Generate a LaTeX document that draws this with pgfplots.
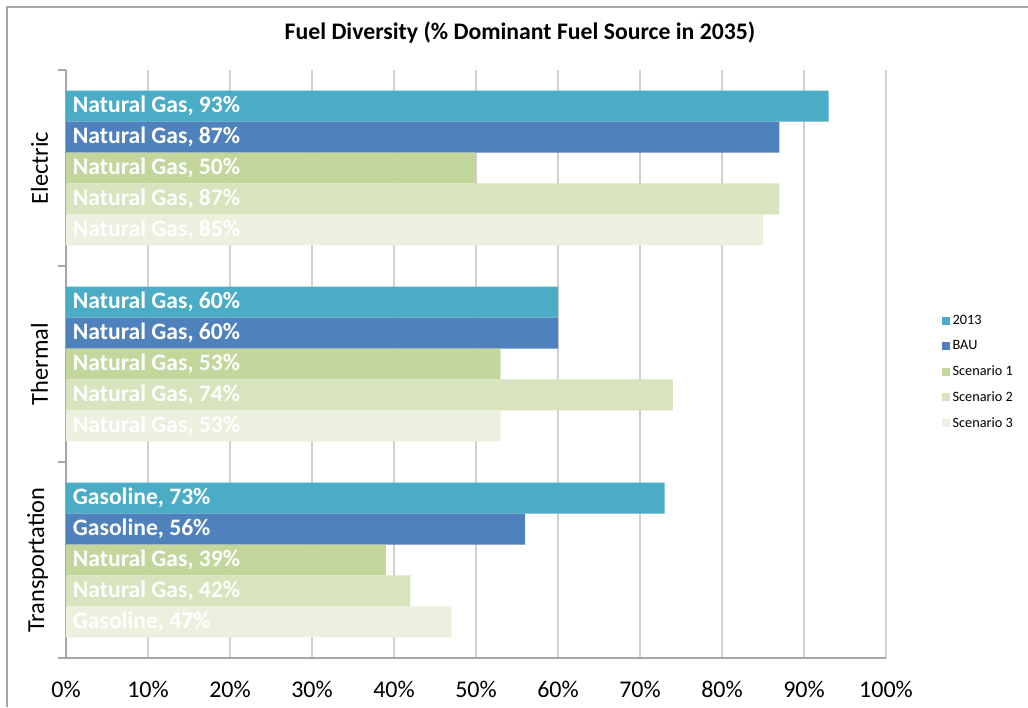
\documentclass[border=0pt]{standalone}
\usepackage{fontspec}
\setmainfont{Carlito}
\usepackage{pgfplots}
\pgfplotsset{compat=1.18}
\usepackage{pgfplotstable}

\definecolor{c2013}{HTML}{4BACC6}
\definecolor{cBAU}{HTML}{4F81BD}
\definecolor{cS1}{HTML}{C3D69B}
\definecolor{cS2}{HTML}{D7E4BD}
\definecolor{cS3}{HTML}{EBF1DE}
\definecolor{gridgray}{HTML}{D0D0D0}
\definecolor{axisgray}{HTML}{A6A6A6}

% share of the dominant fuel source, per sector (y) and case
\pgfplotstableread[col sep=comma]{
y,a,fa,b,fb,c,fc,d,fd,e,fe
0,73,Gasoline,56,Gasoline,39,Natural Gas,42,Natural Gas,47,Gasoline
1,60,Natural Gas,60,Natural Gas,53,Natural Gas,74,Natural Gas,53,Natural Gas
2,93,Natural Gas,87,Natural Gas,50,Natural Gas,87,Natural Gas,85,Natural Gas
}\fueldata

\begin{document}
\begin{tikzpicture}[x=1pt,y=1pt]
\fill[white] (0,0) rectangle (771,530.25);
\draw[axisgray,line width=0.8pt] (5.25,0) -- (5.25,525) -- (771,525);
\node[font=\fontsize{17.8}{21}\selectfont\bfseries] at (390,505.5) {Fuel Diversity (\% Dominant Fuel Source in 2035)};
\begin{axis}[
  at={(49.5pt,36.75pt)}, anchor=south west,
  scale only axis, width=615pt, height=441pt,
  xbar, bar width=0.158,
  xmin=0, xmax=100, ymin=-0.5, ymax=2.5,
  axis lines*=left,
  axis line style={-, draw=axisgray, line width=0.8pt},
  xtick={0,10,...,100},
  xticklabel={\pgfmathprintnumber{\tick}\%},
  xtick style={draw=none},
  xmajorgrids,
  major grid style={draw=gridgray, line width=0.8pt},
  xticklabel style={font=\fontsize{18}{21}\selectfont},
  yticklabel style={font=\fontsize{18.3}{21}\selectfont},
  /pgf/number format/assume math mode=true,
  xticklabel shift=8pt,
  ytick={-0.5,0.5,1.5,2.5},
  yticklabels={},
  ytick style={draw=axisgray, line width=0.8pt},
  tick align=outside,
  major tick length=6pt,
  extra y ticks={0,1,2},
  extra y tick labels={Transportation,Thermal,Electric},
  extra y tick style={major tick length=0pt, yticklabel style={rotate=90, anchor=south}},
  yticklabel shift=10pt,
  point meta=explicit symbolic,
  visualization depends on={x \as \rawx},
  nodes near coords={\pgfplotspointmeta, \pgfmathprintnumber{\rawx}\%},
  every node near coord/.append style={anchor=west, inner sep=0pt, text=white,
    font=\fontsize{17.7}{20}\selectfont\bfseries, xshift={-\rawx*6.15pt+5pt}},
  legend style={at={(1.063,0.486)}, anchor=west, draw=none, fill=none,
    font=\fontsize{10.7}{13}\selectfont, row sep=6.5pt},
  legend cell align=left,
  legend image code/.code={\fill[#1] (0pt,-3pt) rectangle (6pt,3pt);},
]
\addplot[fill=c2013, draw=none, bar shift=0.316] table[x=a, y=y, meta=fa] {\fueldata};
\addplot[fill=cBAU, draw=none, bar shift=0.158] table[x=b, y=y, meta=fb] {\fueldata};
\addplot[fill=cS1, draw=none, bar shift=0] table[x=c, y=y, meta=fc] {\fueldata};
\addplot[fill=cS2, draw=none, bar shift=-0.158] table[x=d, y=y, meta=fd] {\fueldata};
\addplot[fill=cS3, draw=none, bar shift=-0.316] table[x=e, y=y, meta=fe] {\fueldata};
\legend{2013,BAU,Scenario 1,Scenario 2,Scenario 3}
\end{axis}
\pgfresetboundingbox
\path[use as bounding box] (0,0) rectangle (771,530.25);
\end{tikzpicture}
\end{document}
